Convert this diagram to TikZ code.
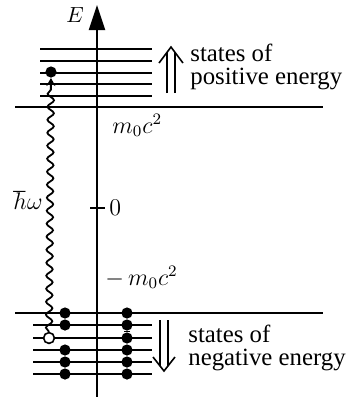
\documentclass[tikz,border=0pt]{standalone}
\usepackage{fontspec}
\setmainfont{Liberation Serif}
\usetikzlibrary{arrows.meta,decorations.pathmorphing}

\tikzset{
  enlevel/.style={line width=1pt},
  electron/.style={circle, fill, inner sep=0pt, minimum size=5.6pt},
  hole/.style={circle, draw, fill=white, line width=0.8pt, inner sep=0pt, minimum size=5.4pt},
  beads/.style={line width=2.6pt},
  photon/.style={line width=0.9pt, decorate,
    decoration={snake, amplitude=1.6pt, segment length=6.5pt, post length=5pt}},
  lbl/.style={inner sep=0pt, font=\fontsize{12}{12}\selectfont},
  txt/.style={inner sep=0pt, anchor=base west, align=left,
    font=\fontsize{12.4}{11.5}\selectfont},
  dblarrow/.style={line width=0.8pt}
}

\begin{document}
\begin{tikzpicture}[x=0.5pt, y=-0.5pt]
  \useasboundingbox (0,0) rectangle (350,397);

  % energy levels
  \foreach \y in {49,61,73,84,96} \draw[enlevel] (40,\y) -- (152,\y);
  \foreach \y in {325,338,350,362,374} \draw[enlevel] (33,\y) -- (152,\y);
  \draw[enlevel] (15,107) -- (323,107);
  \draw[enlevel] (15,313) -- (323,313);

  % axis
  \coordinate (axbot) at (97,397);
  \coordinate (axtop) at (97,5);
  \draw[line width=1pt, -{Triangle[length=12.5pt,width=8pt]}] (axbot) -- (axtop);
  \node[lbl, font=\fontsize{11}{11}\selectfont] (E) at (75,15) {$E$};

  \coordinate (tickl) at (90,208);
  \coordinate (tickr) at (105,208);
  \draw[line width=1pt] (tickl) -- (tickr);
  \node[lbl, anchor=west] (zero) at (109,208) {$0$};
  \node[lbl, anchor=base west] (mpos) at (112,133) {$m_0c^2$};
  \node[lbl, anchor=base west] (mneg) at (105,285) {$-\,m_0c^2$};
  \node[lbl] (hw) at (28,200) {$\hbar\omega$};

  % filled sea
  \node[electron] (a1) at (65,313) {};
  \node[electron] (a2) at (65,325) {};
  \node[electron] (a4) at (65,350) {};
  \node[electron] (a5) at (65,362) {};
  \node[electron] (a6) at (65,374) {};
  \foreach \i/\y in {1/313,2/325,3/338,4/350,5/362,6/374}
    \node[electron] (b\i) at (127,\y) {};
  \draw[beads] (a1) -- (a2);
  \draw[beads] (a4) -- (a5) -- (a6);
  \draw[beads] (b1) -- (b2) -- (b3) -- (b4) -- (b5) -- (b6);

  % excitation
  \node[hole] (h) at (49,338) {};
  \node[electron] (e) at (51,72) {};
  \draw[photon, -{Stealth[length=4pt,width=4.5pt]}] (h) -- (e);

  % double arrows and labels
  \draw[dblarrow] (167,93) -- (167,52) (175,93) -- (175,52);
  \draw[dblarrow] (159,63) -- (171,47) -- (183,63);
  \draw[dblarrow] (160,320) -- (160,366) (168,320) -- (168,366);
  \draw[dblarrow] (153,357) -- (164,371) -- (175,357);

  \node[txt] (pos) at (190,84) {states of\\positive energy};
  \node[txt] (neg) at (188,365) {states of\\negative energy};
\end{tikzpicture}
\end{document}
